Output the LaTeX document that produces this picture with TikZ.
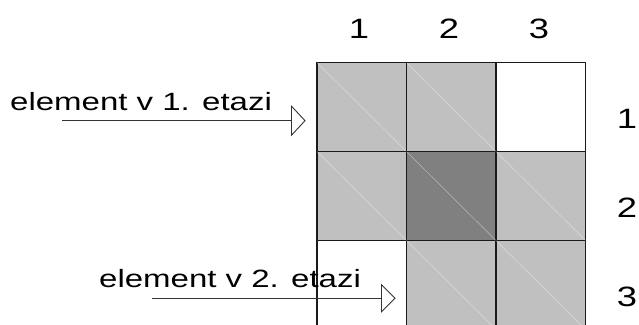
\documentclass[tikz,border=0pt]{standalone}
\usepackage{graphicx}
\usepackage{fontspec}
\setmainfont{Liberation Sans}
\newcommand{\widetxt}[1]{\scalebox{1.32}[1]{#1}}
\newcommand{\widenum}[1]{\scalebox{1.3}[1]{#1}}
\definecolor{lightcell}{HTML}{C0C0C0}
\definecolor{darkcell}{HTML}{808080}
\definecolor{gridline}{HTML}{1A1A1A}
\definecolor{arrowline}{HTML}{333333}
\tikzset{
  cell/.style={draw=gridline, line width=1.2pt, minimum width=89.5pt, minimum height=89pt, inner sep=0pt, anchor=center},
  diagline/.style={draw=white, opacity=0.45, line width=0.5pt},
  lbl/.style={inner sep=0pt, anchor=base west, font=\fontsize{25pt}{29pt}\selectfont},
  num/.style={inner sep=0pt, anchor=base, font=\fontsize{28pt}{32pt}\selectfont},
  arrowbody/.style={draw=arrowline, line width=0.9pt},
  arrowhead/.style={draw=arrowline, line width=0.9pt, fill=white, line join=miter}
}
\begin{document}
\begin{tikzpicture}[x=1pt,y=-1pt]
\useasboundingbox (0,0) rectangle (639,324);
% cells
\node[cell, fill=lightcell] (c11) at (361.75,107) {};
\node[cell, fill=lightcell] (c12) at (451.25,107) {};
\node[cell, fill=white]     (c13) at (540.75,107) {};
\node[cell, fill=lightcell] (c21) at (361.75,196) {};
\node[cell, fill=darkcell]  (c22) at (451.25,196) {};
\node[cell, fill=lightcell] (c23) at (540.75,196) {};
\node[cell, fill=white]     (c31) at (361.75,285) {};
\node[cell, fill=lightcell] (c32) at (451.25,285) {};
\node[cell, fill=lightcell] (c33) at (540.75,285) {};
\foreach \c in {c11,c12,c21,c22,c23,c32,c33}{
  \draw[diagline] ([shift={(0.8pt,-0.8pt)}]\c.north west) -- ([shift={(-0.8pt,0.8pt)}]\c.south east);
}
% column labels
\node[num] (k1) at (359,38) {\widenum{1}};
\node[num] (k2) at (449,38) {\widenum{2}};
\node[num] (k3) at (539,38) {\widenum{3}};
% row labels
\node[num] (r1) at (627,128) {\widenum{1}};
\node[num] (r2) at (627,217) {\widenum{2}};
\node[num] (r3) at (627,306) {\widenum{3}};
% labels and arrows
\node[lbl] (t1) at (10,110) {\widetxt{element v 1. etazi}};
\node[lbl] (t2) at (99,287) {\widetxt{element v 2. etazi}};
\coordinate (a1s) at (62,120.7);
\coordinate (a1e) at (305,120.7);
\coordinate (a2s) at (152,298.3);
\coordinate (a2e) at (395,298.3);
\draw[arrowbody] (a1s) -- (a1e);
\draw[arrowhead] (a1e) -- ++(-13.5,-14.5) -- ++(0,29) -- cycle;
\draw[arrowbody] (a2s) -- (a2e);
\draw[arrowhead] (a2e) -- ++(-13.5,-13.5) -- ++(0,27) -- cycle;
\end{tikzpicture}
\end{document}
